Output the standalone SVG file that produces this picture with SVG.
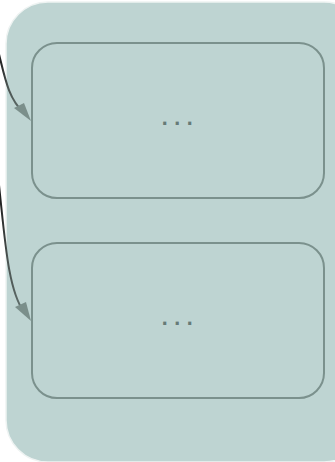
<svg xmlns="http://www.w3.org/2000/svg" width="335" height="462" viewBox="0 0 335 462">
  <defs>
    <linearGradient id="g1" gradientUnits="userSpaceOnUse" x1="0" y1="0" x2="30" y2="0">
      <stop offset="0" stop-color="#1e1e1e"/>
      <stop offset="0.25" stop-color="#4a5351"/>
      <stop offset="1" stop-color="#6f817e"/>
    </linearGradient>
    <style>
      .edge{fill:none;stroke:url(#g1);stroke-width:2}
      .head{fill:#7b8f8b}
      .node{fill:none;stroke:#7b918d;stroke-width:2}
      .dots{font-family:"Liberation Sans",Arial,sans-serif;font-size:32px;letter-spacing:3.6px;fill:#667a77;text-anchor:middle}
    </style>
  </defs>
  <rect width="335" height="462" fill="#ffffff"/>
  <g id="container">
    <rect x="6" y="2" width="360" height="460" rx="42" fill="#bed4d2" stroke="#eef3f2" stroke-width="1.5"/>
  </g>
  <g id="connectors">
    <path class="edge" d="M-2 50 C 5 78, 8 98, 24 113"/>
    <path class="edge" d="M-1 185 C 5 240, 8 290, 24 312"/>
    <path class="head" d="M14 108 L31 121 L24 103 z"/>
    <path class="head" d="M15 307 L31 321 L26 302 z"/>
  </g>
  <g id="node1">
    <rect class="node" x="32" y="43" width="292" height="155" rx="25"/>
    <text class="dots" x="179" y="125">...</text>
  </g>
  <g id="node2">
    <rect class="node" x="32" y="243" width="292" height="155" rx="25"/>
    <text class="dots" x="179" y="325">...</text>
  </g>
</svg>
